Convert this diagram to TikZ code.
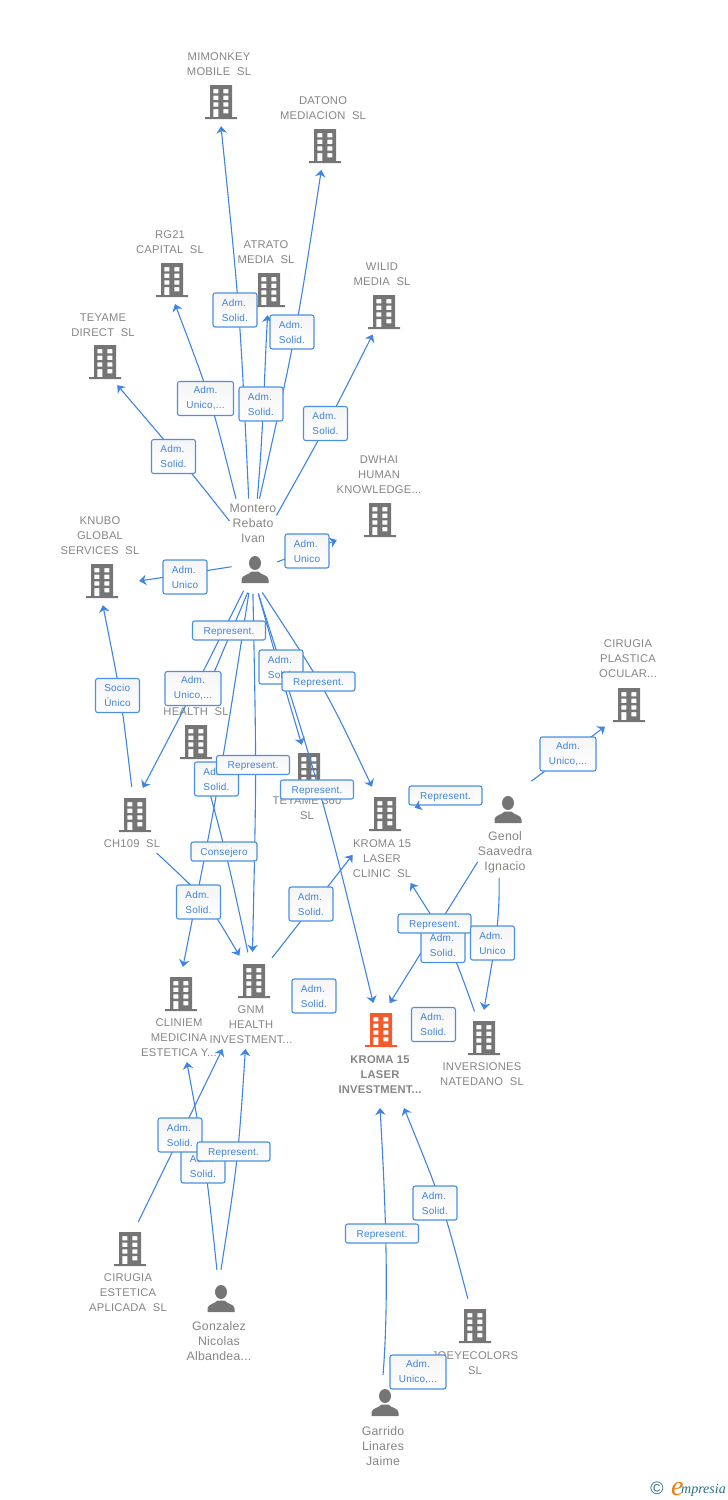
\documentclass[tikz,border=0pt]{standalone}
\usepackage{fontspec}
\setmainfont[LetterSpace=2]{Liberation Sans}
\newfontfamily\logofont{Liberation Serif}
\usetikzlibrary{arrows.meta}
\definecolor{iconcol}{HTML}{757575}
\definecolor{textcol}{HTML}{858585}
\definecolor{linkcol}{HTML}{3F84E5}
\definecolor{rolecol}{HTML}{3F82DE}
\definecolor{edgecol}{HTML}{4A90E2}
\definecolor{rootcol}{HTML}{F65A2B}
\definecolor{logoteal}{HTML}{2A6D85}
\definecolor{logoorange}{HTML}{EE7D11}
\tikzset{
	spot/.style={circle, inner sep=0pt, minimum size=2*#1},
	lab/.style={align=center, inner sep=0pt, outer ysep=5pt, text=textcol, font=\fontsize{11.2}{15}\selectfont},
	who/.style={lab, font=\fontsize{12.3}{15}\selectfont},
	link/.style={draw=linkcol, line width=1.1pt, -{Stealth[length=7pt, width=10.5pt, inset=2.2pt]}},
	role/.style={draw=edgecol, line width=1.1pt, rounded corners=2.2pt, top color=black!4, bottom color=white, minimum width=44pt, minimum height=34pt, inner sep=0pt, align=left, text=rolecol, font=\fontsize{10}{15}\selectfont},
	rolewide/.style={role, minimum width=56pt, align=center},
	roleflat/.style={role, minimum width=73pt, minimum height=19pt, text height=8pt, text depth=1pt},
	building/.pic={
		\path[pic actions, even odd rule]
			(-11,-17) rectangle (11,15) (-16,15) rectangle (16,17)
			(-7.7,-13) rectangle (-2.7,-8.7) (2.3,-13) rectangle (7.3,-8.7)
			(-7.7,-6.3) rectangle (-2.7,-2) (2.3,-6.3) rectangle (7.3,-2)
			(-7.7,0.3) rectangle (-2.7,4.7) (2.3,0.3) rectangle (7.3,4.7)
			(-7.7,7) rectangle (-2.7,15) (2.3,7) rectangle (7.3,11.3);
	},
	person/.pic={
		\path[pic actions] (0,-7) ellipse (6 and 7);
		\path[pic actions] (-13.5,13) -- (-13.5,9.5) .. controls (-13.5,5) and (-6,5) .. (-3.5,1.5) -- (3.5,1.5) .. controls (6,5) and (13.5,5) .. (13.5,9.5) -- (13.5,13) -- cycle;
	}
}
\begin{document}
\begin{tikzpicture}[x=1pt, y=-1pt]
	\useasboundingbox (0,0) rectangle (728,1500);

	% companies and people
	\foreach \nm/\px/\py/\rad in {mimonkey/221/102/24, datono/325/146/24, rgcapital/172/280/24, atrato/269/290/25, wilid/384/312/25, teyamedirect/105/362/26, health/196/742/24, chsl/135/815/28, teyamesl/309/770/26, clinic/385/814/30, plastica/629/705/32, cliniem/181/994/27, gnm/254/981/29, inversiones/484/1038/28, estetica/130/1249/28, joeyecolors/475/1326/28} {
		\node[spot=\rad] (\nm) at (\px,\py) {};
		\pic[fill=iconcol] at (\nm) {building};
	}
	\node[spot=24, rectangle, minimum width=74pt] (knubo) at (102,581) {};
	\pic[fill=iconcol] at (knubo) {building};
	\node[spot=24, rectangle, minimum width=86pt] (dwhai) at (380,520) {};
	\pic[fill=iconcol] at (dwhai) {building};
	\node[spot=28] (kroma) at (381,1030) {};
	\pic[fill=rootcol] at (kroma) {building};
	\node[spot=23.5] (ivan) at (255,570) {};
	\pic[fill=iconcol] at (ivan) {person};
	\node[spot=37] (genol) at (508,810) {};
	\pic[fill=iconcol] at (genol) {person};
	\node[spot=29] (gonzalez) at (221,1299) {};
	\pic[fill=iconcol] at (gonzalez) {person};
	\node[spot=28] (garrido) at (385,1403) {};
	\pic[fill=iconcol] at (garrido) {person};

	\node[lab] (mimonkeyname) at (219,64) {MIMONKEY\\MOBILE~~SL};
	\node[lab] (datononame) at (323,108) {DATONO\\MEDIACION~~SL};
	\node[lab] (rgcapitalname) at (170,242) {RG21\\CAPITAL~~SL};
	\node[lab] (atratoname) at (266,252) {ATRATO\\MEDIA~~SL};
	\node[lab] (wilidname) at (382,274) {WILID\\MEDIA~~SL};
	\node[lab] (teyamedirectname) at (103,325) {TEYAME\\DIRECT~~SL};
	\node[lab] (dwhainame) at (379,475) {DWHAI\\HUMAN\\KNOWLEDGE...};
	\node[lab] (knuboname) at (100,536) {KNUBO\\GLOBAL\\SERVICES~~SL};
	\node[who] (ivanname) at (253,523) {Montero\\Rebato\\Ivan};
	\node[lab] (healthname) at (196,712) {HEALTH~~SL};
	\node[lab] (chslname) at (132,844) {CH109~~SL};
	\node[lab] (teyameslname) at (307,808.5) {TEYAME 360\\SL};
	\node[lab] (clinicname) at (382,859) {KROMA 15\\LASER\\CLINIC~~SL};
	\node[lab] (plasticaname) at (628,659) {CIRUGIA\\PLASTICA\\OCULAR...};
	\node[who] (genolname) at (505,852) {Genol\\Saavedra\\Ignacio};
	\node[lab] (cliniemname) at (179,1038) {CLINIEM\\MEDICINA\\ESTETICA Y...};
	\node[lab] (gnmname) at (251,1025) {GNM\\HEALTH\\INVESTMENT...};
	\node[lab, outer ysep=14pt, font=\fontsize{11.2}{15}\selectfont\bfseries] (kromaname) at (380,1075) {KROMA 15\\LASER\\INVESTMENT...};
	\node[lab] (inversionesname) at (482,1074) {INVERSIONES\\NATEDANO~~SL};
	\node[lab] (esteticaname) at (128,1293) {CIRUGIA\\ESTETICA\\APLICADA~~SL};
	\node[who] (gonzalezname) at (219,1341) {Gonzalez\\Nicolas\\Albandea...};
	\node[lab] (joeyecolorsname) at (475,1363) {JOEYECOLORS\\SL};
	\node[who] (garridoname) at (383,1446) {Garrido\\Linares\\Jaime};

	% connectors, under the role boxes
	\draw[link] (ivanname.100) .. controls (240,312) .. (mimonkey.south);
	\draw[link] (ivanname.75) .. controls (296,335) .. (datono);
	\draw[link] (ivanname.80) .. controls (264,420) and (264,380) .. (atrato);
	\draw[link] (ivanname.125) .. controls (211,399) .. (rgcapital.-83);
	\draw[link] (ivanname.175) .. controls (178,456) .. (teyamedirect.-62);
	\draw[link] (ivanname.18) .. controls (327,425) .. (wilid);
	\draw[link] (ivan) -- (dwhai.205);
	\draw[link] (ivan.172) .. controls (185,574) .. (knubo.east);
	\draw[link] (chsl) .. controls (121,696) .. (knubo.-88);
	\draw[link] (ivan.-119) .. controls (194,690) .. (chsl.74);
	\draw[link] (ivan.-108) -- (healthname.60);
	\draw[link] (ivan.-105) .. controls (220,780) .. (cliniem.86);
	\draw[link] (ivan.-95) .. controls (256.5,772) .. (gnm.93);
	\draw[link, -] (health) .. controls (228,860) .. (gnm);
	\draw[link] (chslname.-20) .. controls (206,899) .. (gnm.120);
	\draw[link] (ivan.-82) .. controls (279,668) .. (teyamesl.106);
	\draw[link] (ivan.-82) .. controls (323,797) .. (kroma.106);
	\draw[link] (ivan.-72) .. controls (326,690) .. (clinic);
	\draw[link] (genol.51) -- (plastica.222);
	\draw[link] (genolname.200) -- (kroma.72);
	\draw[link] (genolname.-103) .. controls (500,925) and (494,950) .. (inversiones.north);
	\draw[link] (inversiones) .. controls (451.5,947) .. (clinicname.-40);
	\draw[link] (gnm) -- (clinicname.172);
	\draw[link] (estetica.73) -- (gnmname.220);
	\draw[link] (gonzalez.90) .. controls (238,1160) .. (gnmname.-103);
	\draw[link] (gonzalez.98) .. controls (206,1166) .. (cliniemname.-72);
	\draw[link] (garrido.94) .. controls (389,1300) and (386,1210) .. (kromaname.-90);
	\draw[link] (joeyecolors) .. controls (443,1204) .. (kromaname.-54);

	% role boxes, later ones lie over earlier ones
	\node[role] (rolemimonkey) at (235,310) {Adm.\\Solid.};
	\node[role] (roledatono) at (292,332) {Adm.\\Solid.};
	\node[role] (roleatrato) at (261,404) {Adm.\\Solid.};
	\node[rolewide] (rolergcapital) at (205.5,398.5) {Adm.\\Unico,...};
	\node[role] (roleteyamedirect) at (173.5,456.5) {Adm.\\Solid.};
	\node[role] (rolewilid) at (325.5,423.5) {Adm.\\Solid.};
	\node[role] (roledwhai) at (307,551) {Adm.\\Unico};
	\node[role] (roleknubo) at (185,577) {Adm.\\Unico};
	\node[role] (rolesocio) at (117.5,695.5) {Socio\\Único};
	\node[roleflat] (rolehealthrep) at (229,630.5) {Represent.};
	\node[role] (roleteyamesl) at (281,667) {Adm.\\Solid.};
	\node[roleflat] (roleclinicrep) at (318.5,681.5) {Represent.};
	\node[rolewide] (rolechsl) at (193,688.5) {Adm.\\Unico,...};
	\node[role] (rolecliniem) at (216.5,779) {Adm.\\Solid.};
	\node[roleflat] (rolegnmrep) at (253,765) {Represent.};
	\node[roleflat] (rolekromarep) at (317,789.5) {Represent.};
	\node[roleflat] (rolegenolrep) at (445.5,795.5) {Represent.};
	\node[rolewide] (roleplastica) at (568,754) {Adm.\\Unico,...};
	\node[roleflat, minimum width=66pt] (rolegnmcons) at (224,851.5) {Consejero};
	\node[role] (rolegnmsolid) at (198.5,902) {Adm.\\Solid.};
	\node[role] (roleclinic) at (311,904) {Adm.\\Solid.};
	\node[role] (roleinvclinic) at (443,945.5) {Adm.\\Solid.};
	\node[roleflat] (rolegenolkroma) at (434.5,923.5) {Represent.};
	\node[role] (roleinversiones) at (492.5,943) {Adm.\\Unico};
	\node[role] (rolegnmkroma) at (314,996) {Adm.\\Solid.};
	\node[role] (roleinvkroma) at (433.5,1024.5) {Adm.\\Solid.};
	\node[role] (rolegonzalez) at (203,1166) {Adm.\\Solid.};
	\node[role] (roleestetica) at (180,1135) {Adm.\\Solid.};
	\node[roleflat] (rolegonzalezrep) at (233.5,1151.5) {Represent.};
	\node[role] (rolejoey) at (435,1203) {Adm.\\Solid.};
	\node[roleflat] (rolegarridorep) at (382,1233.5) {Represent.};
	\node[rolewide] (rolegarrido) at (418,1372) {Adm.\\Unico,...};

	\draw[link] (rolegenolrep) -- (clinic.12);

	% logo
	\node[inner sep=0pt, text=logoteal, font=\fontsize{18}{18}\selectfont] (logomark) at (657,1488) {©};
	\node[inner sep=0pt, anchor=base west, text=logoorange, font=\logofont\itshape\fontsize{28}{28}\selectfont] (logoe) at (671,1495) {e};
	\node[inner sep=0pt, anchor=base west, text=logoteal, font=\logofont\itshape\fontsize{14}{16}\selectfont] (logoname) at (681,1493) {mpresia};
\end{tikzpicture}
\end{document}
